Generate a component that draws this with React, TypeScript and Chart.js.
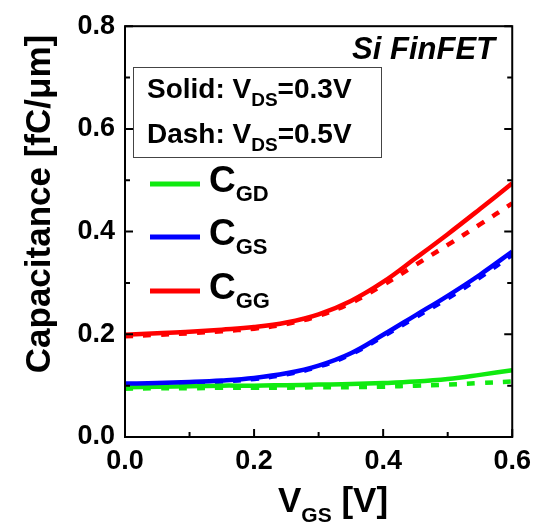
import { useEffect, useRef } from "react";
import { Chart, registerables } from "chart.js";

Chart.register(...registerables);

// Gate voltage sweep (V)
const vgs = [0, 0.05, 0.1, 0.15, 0.2, 0.25, 0.3, 0.35, 0.4, 0.45, 0.5, 0.55, 0.6];

// Capacitances (fC/µm), solid: VDS = 0.3 V, dash: VDS = 0.5 V
const cgdSolid = [0.097, 0.098, 0.099, 0.1, 0.1, 0.101, 0.102, 0.103, 0.105, 0.108, 0.113, 0.121, 0.13];
const cgdDash = [0.094, 0.095, 0.095, 0.096, 0.096, 0.096, 0.097, 0.097, 0.098, 0.1, 0.102, 0.105, 0.108];
const cgsSolid = [0.104, 0.105, 0.107, 0.11, 0.115, 0.124, 0.139, 0.163, 0.199, 0.237, 0.275, 0.316, 0.361];
const cgsDash = [0.102, 0.103, 0.105, 0.108, 0.113, 0.122, 0.137, 0.161, 0.196, 0.233, 0.27, 0.311, 0.355];
const cggSolid = [0.199, 0.202, 0.205, 0.209, 0.214, 0.223, 0.239, 0.265, 0.302, 0.348, 0.395, 0.444, 0.494];
const cggDash = [0.196, 0.199, 0.202, 0.206, 0.211, 0.22, 0.236, 0.261, 0.296, 0.335, 0.374, 0.414, 0.455];

// Axis ranges and tick positions
const xRange = [0, 0.6];
const yRange = [0, 0.8];
const xTickVals = [0, 0.1, 0.2, 0.3, 0.4, 0.5, 0.6];
const yTickVals = [0, 0.1, 0.2, 0.3, 0.4, 0.5, 0.6, 0.7, 0.8];

const GREEN = "#10ea10";
const BLUE = "#0000ff";
const RED = "#ff0000";
const FONT = "'Liberation Sans', Arial, Helvetica, sans-serif";

type Part = { t: string; size: number; dy?: number; style?: string };

function drawRich(ctx: CanvasRenderingContext2D, parts: Part[], x: number, y: number) {
  let cx = x;
  for (const p of parts) {
    ctx.font = `${p.style ?? "bold"} ${p.size}px ${FONT}`;
    ctx.fillText(p.t, cx, y + (p.dy ?? 0));
    cx += ctx.measureText(p.t).width;
  }
}

const pairs = (ys: number[]) => vgs.map((v, i) => ({ x: v, y: ys[i] }));

const decorPlugin = {
  id: "decor",
  afterDraw(chart: any) {
    const ctx: CanvasRenderingContext2D = chart.ctx;
    const { left, right, top, bottom } = chart.chartArea;
    const xs = chart.scales.x;
    const ys = chart.scales.y;
    ctx.save();
    ctx.strokeStyle = "#000";
    ctx.fillStyle = "#000";

    // frame
    ctx.lineWidth = 2;
    ctx.strokeRect(left, top, right - left, bottom - top);

    // inward ticks: bottom, left, right
    xTickVals.forEach((v, i) => {
      const px = xs.getPixelForValue(v);
      const len = i % 2 === 0 ? 8 : 5;
      ctx.beginPath();
      ctx.moveTo(px, bottom);
      ctx.lineTo(px, bottom - len);
      ctx.stroke();
    });
    yTickVals.forEach((v, i) => {
      const py = ys.getPixelForValue(v);
      const len = i % 2 === 0 ? 8 : 5;
      ctx.beginPath();
      ctx.moveTo(left, py);
      ctx.lineTo(left + len, py);
      ctx.moveTo(right, py);
      ctx.lineTo(right - len, py);
      ctx.stroke();
    });

    // y axis title
    ctx.save();
    ctx.translate(50, 204);
    ctx.rotate(-Math.PI / 2);
    ctx.textAlign = "center";
    ctx.textBaseline = "alphabetic";
    ctx.font = `bold 35px ${FONT}`;
    ctx.fillText("Capacitance [fC/\u03bcm]", 0, 0);
    ctx.restore();

    ctx.textAlign = "left";
    ctx.textBaseline = "alphabetic";

    // x axis title
    drawRich(ctx, [
      { t: "V", size: 35 },
      { t: "GS", size: 21, dy: 10 },
      { t: " [V]", size: 35 },
    ], 278, 512);

    // device label
    ctx.textAlign = "right";
    ctx.font = `italic bold 31px ${FONT}`;
    ctx.fillText("Si FinFET", 495, 59);
    ctx.textAlign = "left";

    // bias box
    ctx.lineWidth = 1;
    ctx.strokeStyle = "#444";
    ctx.strokeRect(133.5, 67.5, 248, 90);
    drawRich(ctx, [
      { t: "Solid: V", size: 28 },
      { t: "DS", size: 19, dy: 8 },
      { t: "=0.3V", size: 28 },
    ], 147, 98);
    drawRich(ctx, [
      { t: "Dash: V", size: 28 },
      { t: "DS", size: 19, dy: 8 },
      { t: "=0.5V", size: 28 },
    ], 147, 143);

    // series legend
    const entries = [
      { c: GREEN, sub: "GD", y: 184 },
      { c: BLUE, sub: "GS", y: 237 },
      { c: RED, sub: "GG", y: 291 },
    ];
    for (const e of entries) {
      ctx.strokeStyle = e.c;
      ctx.lineWidth = 5;
      ctx.beginPath();
      ctx.moveTo(150, e.y);
      ctx.lineTo(200, e.y);
      ctx.stroke();
      ctx.fillStyle = "#000";
      drawRich(ctx, [
        { t: "C", size: 37 },
        { t: e.sub, size: 22, dy: 9 },
      ], 209, e.y + 8);
    }
    ctx.restore();
  },
};

export default function App() {
  const ref = useRef<HTMLCanvasElement | null>(null);

  useEffect(() => {
    if (!ref.current) return;
    const solid = (label: string, ys: number[], color: string) => ({
      label,
      data: pairs(ys),
      borderColor: color,
      backgroundColor: color,
      borderWidth: 4.5,
      pointRadius: 0,
      tension: 0.4,
      fill: false,
    });
    const dash = (label: string, ys: number[], color: string) => ({
      ...solid(label, ys, color),
      borderDash: [8, 10],
    });
    const tickFont = { family: FONT, size: 27, weight: "bold" as const };
    const chart = new Chart(ref.current, {
      type: "line",
      data: {
        datasets: [
          solid("CGS 0.3V", cgsSolid, BLUE),
          solid("CGD 0.3V", cgdSolid, GREEN),
          solid("CGG 0.3V", cggSolid, RED),
          dash("CGS 0.5V", cgsDash, BLUE),
          dash("CGD 0.5V", cgdDash, GREEN),
          dash("CGG 0.5V", cggDash, RED),
        ],
      },
      options: {
        animation: false,
        responsive: false,
        devicePixelRatio: 1,
        layout: { padding: { top: 24, right: 26, left: 0, bottom: 0 } },
        plugins: { legend: { display: false }, tooltip: { enabled: false } },
        scales: {
          x: {
            type: "linear",
            min: xRange[0],
            max: xRange[1],
            grid: { display: false, drawTicks: false },
            border: { display: false },
            ticks: {
              stepSize: 0.2,
              padding: 8,
              color: "#000",
              font: tickFont,
              maxRotation: 0,
              autoSkip: false,
              callback: (v: any) => Number(v).toFixed(1),
            },
            afterFit: (s: any) => {
              s.height = 89;
            },
          },
          y: {
            type: "linear",
            min: yRange[0],
            max: yRange[1],
            grid: { display: false, drawTicks: false },
            border: { display: false },
            ticks: {
              stepSize: 0.2,
              padding: 10,
              color: "#000",
              font: tickFont,
              callback: (v: any) => Number(v).toFixed(1),
            },
            afterFit: (s: any) => {
              s.width = 125;
            },
          },
        },
      },
      plugins: [decorPlugin],
    });
    return () => chart.destroy();
  }, []);

  return (
    <div style={{ position: "absolute", left: 0, top: 0, width: 539, height: 526, background: "#fff" }}>
      <canvas ref={ref} width={539} height={526} />
    </div>
  );
}
